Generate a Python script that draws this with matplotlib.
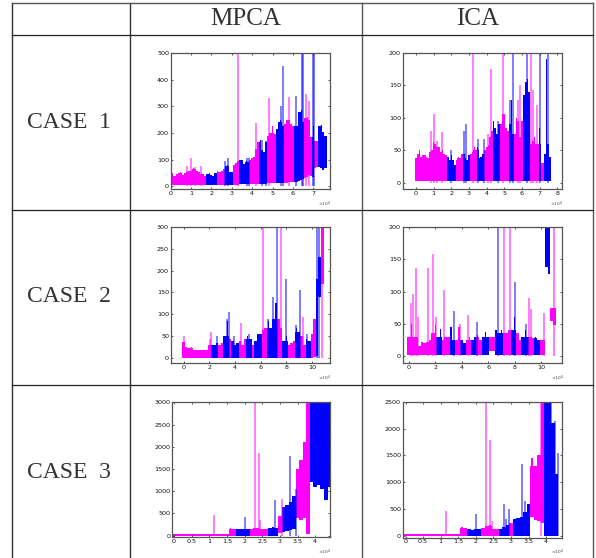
import numpy as np
import matplotlib
matplotlib.use('Agg')
import matplotlib.pyplot as plt

W, H = 596, 558
MAG = '#ff00ff'
BLUE = '#0000ff'

# CASE 1 / MPCA
top_11 = [40, 50, 38, 48, 50, 52, 42, 50, 55, 60, 58, 68, 65, 58, 55, 48, 45, 40, 48, 50,
          42, 40, 50, 58, 55, 58, 65, 75, 80, 55, 55, 80, 88, 95, 100, 98, 85, 95, 90, 100,
          105, 110, 140, 165, 175, 135, 130, 165, 190, 200, 225, 195, 215, 240, 250, 225, 235, 250, 250, 235,
          225, 250, 225, 280, 285, 240, 255, 260, 250, 185, 225, 170, 170, 225, 230, 205, 190]
low_11 = [5, 4, 4, 4, 4, 4, 4, 4, 4, 4, 4, 4, 4, 4, 4, 4, 4, 4, 4, 4,
          4, 4, 4, 4, 4, 4, 5, 5, 5, 5, 6, 6, 6, 6, 7, 7, 7, 7, 8, 8,
          8, 8, 9, 9, 9, 10, 10, 10, 11, 11, 12, 12, 12, 13, 13, 14, 14, 14, 15, 16,
          17, 18, 18, 20, 22, 26, 30, 35, 42, 38, 35, 70, 72, 72, 68, 62, 68]
edges_11 = [1.75, 2.2, 2.6, 3.0, 3.4, 3.85, 4.3, 4.75, 5.15, 5.6, 6.05, 6.5, 6.9, 7.05, 7.25]
spike_x_11 = [0.8, 1.0, 1.2, 1.5, 2.65, 2.8, 3.3, 3.75, 3.85, 4.2, 4.5, 4.7, 4.85, 5.4, 5.5, 5.8, 6.15, 6.45, 6.5, 6.65, 6.8, 7.0, 7.05]
spike_top_11 = [78, 107, 72, 75, 95, 108, 500, 105, 105, 238, 175, 170, 330, 300, 450, 335, 340, 500, 500, 345, 320, 500, 500]

# CASE 1 / ICA
top_12 = [38, 45, 50, 40, 52, 42, 40, 38, 48, 50, 62, 60, 55, 60, 48, 50, 45, 42, 40, 35,
          42, 35, 28, 35, 40, 38, 45, 45, 38, 35, 42, 45, 48, 55, 50, 55, 38, 40, 45, 50,
          55, 58, 70, 80, 95, 85, 75, 95, 90, 105, 105, 85, 80, 90, 128, 75, 75, 100, 95, 70,
          95, 135, 155, 160, 140, 60, 65, 70, 60, 60, 85, 30, 30, 45, 190, 60, 40]
low_12 = [2, 2, 2, 2, 2, 2, 2, 2, 2, 2, 2, 2, 2, 2, 2, 2, 2, 2, 2, 2,
          2, 2, 2, 2, 2, 2, 2, 2, 2, 2, 2, 2, 2, 2, 2, 2, 2, 2, 2, 2,
          2, 2, 2, 2, 2, 2, 2, 2, 2, 2, 2, 2, 2, 2, 2, 2, 2, 2, 2, 2,
          2, 2, 2, 2, 2, 2, 2, 2, 2, 2, 2, 2, 2, 2, 2, 2, 2]
edges_12 = [1.75, 2.2, 2.6, 3.0, 3.45, 3.9, 4.35, 4.75, 5.2, 5.6, 6.05, 6.45, 6.9, 7.05, 7.2]
spike_x_12 = [0.85, 1.0, 1.2, 1.5, 2.0, 2.7, 2.85, 3.25, 3.5, 3.85, 4.1, 4.25, 4.65, 4.9, 5.3, 5.5, 5.75, 5.9, 6.3, 6.5, 6.6, 6.85, 7.0, 7.5]
spike_top_12 = [80, 106, 65, 78, 50, 80, 90, 200, 68, 68, 75, 175, 95, 200, 128, 200, 128, 150, 200, 200, 143, 120, 200, 200]

# CASE 2 / MPCA
top_21 = [38, 25, 24, 25, 20, 20, 20, 20, 20, 20, 30, 30, 30, 35, 30, 35, 50, 85, 45, 40,
          30, 35, 40, 30, 45, 50, 45, 30, 40, 55, 55, 65, 70, 85, 70, 90, 125, 90, 70, 40,
          50, 30, 35, 40, 70, 60, 50, 30, 45, 40, 55, 90, 180, 230, 300]
low_21 = [1, 1, 1, 1, 1, 1, 1, 1, 1, 1, 1, 1, 1, 1, 1, 1, 1, 1, 1, 1,
          1, 1, 1, 1, 1, 1, 1, 1, 1, 1, 1, 1, 1, 1, 1, 1, 1, 1, 1, 1,
          1, 1, 1, 1, 1, 1, 1, 1, 1, 1, 1, 2, 5, 140, 170]
edges_21 = [2.1, 2.7, 3.1, 3.5, 3.7, 4.3, 4.9, 5.3, 5.6, 6.0, 6.5, 7.0, 7.1, 7.35, 7.7, 8.1, 8.7, 9.2, 9.5, 9.9, 10.3, 10.65]
spike_x_21 = [0.05, 2.05, 2.1, 2.6, 3.35, 3.5, 3.9, 4.45, 5.1, 6.15, 6.6, 7.0, 7.25, 7.55, 8.0, 8.75, 9.1, 9.3, 9.6, 10.35, 10.55, 10.8]
spike_top_21 = [50, 45, 60, 50, 90, 105, 50, 80, 55, 300, 90, 140, 300, 300, 180, 75, 155, 95, 55, 300, 300, 300]

# CASE 2 / ICA
top_22 = [30, 50, 30, 30, 15, 22, 20, 22, 25, 35, 48, 30, 42, 25, 30, 30, 45, 25, 25, 45,
          25, 20, 25, 30, 25, 30, 32, 25, 30, 38, 30, 30, 30, 40, 35, 40, 35, 35, 40, 40,
          60, 35, 25, 30, 40, 30, 30, 28, 30, 25, 25, 25, 200, 200, 75, 75]
low_22 = [2, 2, 2, 2, 2, 2, 2, 2, 2, 2, 2, 2, 2, 2, 2, 2, 2, 2, 2, 2,
          2, 2, 2, 2, 2, 2, 2, 2, 2, 2, 2, 7, 7, 2, 2, 2, 2, 2, 2, 2,
          2, 2, 2, 2, 2, 2, 2, 2, 2, 2, 2, 2, 138, 128, 55, 48]
edges_22 = [2.1, 2.5, 3.0, 3.45, 3.9, 4.3, 4.7, 5.15, 5.55, 6.0, 6.5, 7.15, 7.8, 8.0, 8.55, 9.05, 9.4, 9.8, 10.3, 10.7]
spike_x_22 = [0.15, 0.3, 0.55, 0.7, 1.45, 1.85, 2.05, 2.65, 3.4, 3.9, 4.5, 5.15, 6.75, 7.2, 7.65, 8.0, 8.85, 9.1, 9.25, 10.2, 11.0]
spike_top_22 = [83, 97, 137, 60, 137, 158, 60, 102, 70, 50, 63, 53, 200, 200, 200, 115, 50, 90, 73, 67, 200]

# CASE 3 / MPCA
top_31 = [40, 40, 40, 40, 40, 40, 40, 40, 40, 40, 40, 40, 40, 40, 40, 40, 180, 150, 140, 150,
          140, 160, 150, 170, 170, 150, 160, 170, 190, 170, 450, 650, 700, 750, 900, 1500, 1700, 2100, 3000, 3000,
          3000, 3000, 3000, 3000, 3000]
low_31 = [0, 0, 0, 0, 0, 0, 0, 0, 0, 0, 0, 0, 0, 0, 0, 0, 0, 0, 0, 0,
          0, 0, 0, 0, 0, 0, 0, 0, 0, 0, 50, 80, 100, 120, 150, 400, 350, 400, 30, 1200,
          1100, 1150, 1050, 800, 1100]
edges_31 = [1.75, 2.15, 2.6, 2.95, 3.05, 3.45, 3.85]
spike_x_31 = [1.13, 2.0, 2.28, 2.4, 2.45, 2.87, 3.05, 3.3, 3.45]
spike_top_31 = [470, 430, 3000, 1850, 350, 800, 830, 1800, 1050]

# CASE 3 / ICA
top_32 = [35, 35, 40, 35, 40, 40, 35, 35, 35, 40, 35, 40, 35, 35, 35, 35, 170, 150, 140, 120,
          130, 130, 150, 180, 200, 140, 130, 130, 160, 200, 250, 320, 340, 350, 450, 600, 1450, 1300, 1500, 2500,
          2500, 2500, 2100, 1150]
low_32 = [0, 0, 0, 0, 0, 0, 0, 0, 0, 0, 0, 0, 0, 0, 0, 0, 0, 0, 0, 0,
          0, 0, 0, 0, 0, 0, 0, 0, 0, 0, 0, 0, 0, 0, 0, 0, 350, 300, 280, 250,
          0, 0, 0, 0]
edges_32 = [1.75, 2.15, 2.6, 2.95, 3.05, 3.55, 3.95]
spike_x_32 = [1.15, 2.0, 2.28, 2.4, 2.45, 2.8, 2.85, 2.95, 3.3, 3.4, 3.5, 3.85, 4.05, 4.15, 4.25, 4.35]
spike_top_32 = [470, 420, 2500, 1780, 280, 590, 320, 500, 1350, 650, 600, 2500, 2500, 2500, 2150, 1550]

col_labels = ['MPCA', 'ICA']
row_labels = ['CASE  1', 'CASE  2', 'CASE  3']
row_text_y = [123, 297, 473]
xt_case1 = [0, 1, 2, 3, 4, 5, 6, 7]
xt_case1b = [0, 1, 2, 3, 4, 5, 6, 7, 8]
xt_case2 = [0, 2, 4, 6, 8, 10]
xt_case3 = [0, 0.5, 1, 1.5, 2, 2.5, 3, 3.5, 4]
xl_case3 = ['0', '0.5', '1', '1.5', '2', '2.5', '3', '3.5', '4']


def color_at(x, edges):
    # segments alternate, starting with magenta
    return MAG if np.searchsorted(edges, x) % 2 == 0 else BLUE


def panel(box, xlim, ylim, xticks, yticks, top, low, step, edges, sx, st, xlabels=None):
    l, t, r, b = box
    ax = fig.add_axes([l / W, 1 - b / H, (r - l) / W, (b - t) / H])
    x = np.arange(len(top)) * step
    top = np.array(top, dtype=float)
    low = np.array(low, dtype=float)
    cols = [color_at(v, edges) for v in x]
    # solid body keeps plateaus, single peaks stay narrow
    left = np.r_[top[0], top[:-1]]
    right = np.r_[top[1:], top[-1]]
    body = np.maximum(np.minimum(left, top), np.minimum(top, right))
    body = np.maximum(body, low)
    ax.bar(x, body - low, bottom=low, width=step, color=cols, linewidth=0)
    ax.bar(x, top - low, bottom=low, width=step * 0.45, color=cols, linewidth=0)
    for a, b2 in zip(sx, st):
        ax.vlines(a, 0, b2, color=color_at(a, edges), linewidth=1.2, alpha=0.6)
    ax.set_xlim(xlim)
    ax.set_ylim(ylim)
    ax.set_xticks(xticks)
    if xlabels:
        ax.set_xticklabels(xlabels)
    ax.set_yticks(yticks)
    ax.tick_params(direction='in', top=True, right=True, length=1.5, width=0.5,
                   labelsize=4.6, pad=1.2, colors='#111111')
    for s in ax.spines.values():
        s.set_linewidth(0.9)
        s.set_color('#555555')
    bg.text(r - 5, b + 15, r'$\times10^{4}$', fontsize=3.2, color='#444444', ha='center', va='center')
    return ax


fig = plt.figure(figsize=(W / 100, H / 100), dpi=100)
bg = fig.add_axes([0, 0, 1, 1])
bg.set_xlim(0, W)
bg.set_ylim(H, 0)
bg.axis('off')

# table lines
for xv in [11.5, 130, 362, 593]:
    c = '#555555' if xv in (362, 593) else '#333333'
    bg.plot([xv, xv], [3, H], color=c, linewidth=1.0)
bg.plot([11.5, 593], [3, 3], color='#555555', linewidth=1.0)
for yv in [35, 209.5, 384.5]:
    bg.plot([11.5, 593], [yv, yv], color='#222222', linewidth=0.9)

for name, xc in zip(col_labels, [246, 478]):
    bg.text(xc, 19, name, family='Liberation Serif', fontsize=18, color='#333333', ha='center', va='center')
for name, yc in zip(row_labels, row_text_y):
    bg.text(69, yc, name, family='Liberation Serif', fontsize=17, color='#333333', ha='center', va='center')

panel((170.7, 53, 330, 189), (0, 7.82), (-10, 500), xt_case1, [0, 100, 200, 300, 400, 500],
      top_11, low_11, 0.1, edges_11, spike_x_11, spike_top_11)
panel((402.7, 52.7, 561.7, 189.3), (-0.75, 8.25), (-10, 200), xt_case1b, [0, 50, 100, 150, 200],
      top_12, low_12, 0.1, edges_12, spike_x_12, spike_top_12)
panel((170.7, 226.7, 330, 363.3), (-1, 11.4), (-11.4, 300), xt_case2, [0, 50, 100, 150, 200, 250, 300],
      top_21, low_21, 0.2, edges_21, spike_x_21, spike_top_21)
panel((402.7, 227.3, 562.3, 363.3), (-0.45, 11.6), (-11.4, 200), xt_case2, [0, 50, 100, 150, 200],
      top_22, low_22, 0.2, edges_22, spike_x_22, spike_top_22)
panel((172.3, 402.3, 330, 537.3), (-0.05, 4.42), (-37, 3000), xt_case3, [0, 500, 1000, 1500, 2000, 2500, 3000],
      top_31, low_31, 0.1, edges_31, spike_x_31, spike_top_31, xl_case3)
panel((402.7, 401.7, 562.3, 537.7), (-0.08, 4.46), (-30, 2500), xt_case3, [0, 500, 1000, 1500, 2000, 2500],
      top_32, low_32, 0.1, edges_32, spike_x_32, spike_top_32, xl_case3)

fig.savefig('out.png', dpi=100)
